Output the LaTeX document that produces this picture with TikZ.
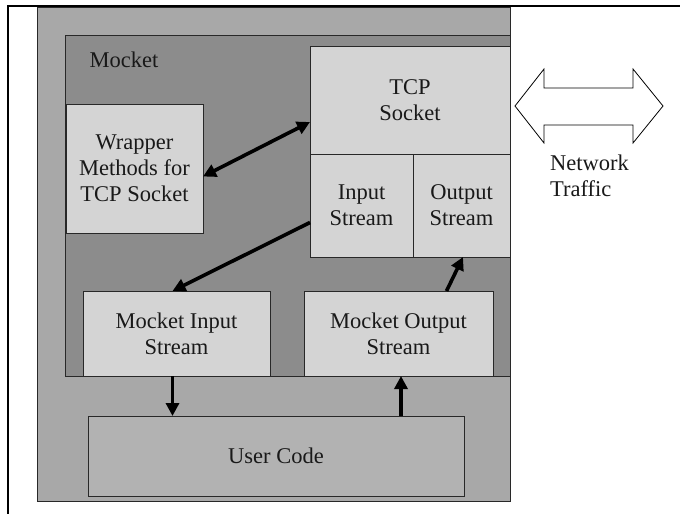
\documentclass[tikz,border=0pt]{standalone}
\usepackage{fontspec}
\setmainfont{Liberation Serif}
\usetikzlibrary{arrows.meta,calc}
\definecolor{outergray}{RGB}{168,168,168}
\definecolor{mocketgray}{RGB}{140,140,140}
\definecolor{boxgray}{RGB}{212,212,212}
\definecolor{codegray}{RGB}{178,178,178}
\definecolor{edgegray}{RGB}{40,40,40}
\tikzset{
  panel/.style={draw=edgegray, line width=0.9pt, anchor=north west, inner sep=0pt, outer sep=0pt},
  box/.style={panel, fill=boxgray, align=center, text=black!90},
  arr/.style={line width=3.6pt, -{Triangle[length=13pt,width=13pt]}},
  dblarr/.style={line width=3.6pt, {Triangle[length=13pt,width=13pt]}-{Triangle[length=13pt,width=13pt]}},
  lbl/.style={inner sep=0pt, text=black!90}
}
\begin{document}
\begin{tikzpicture}[x=1pt,y=-1pt,font=\fontsize{22.5}{26}\selectfont]
\useasboundingbox (0,0) rectangle (680,514);
\fill[white] (0,0) rectangle (680,514);
% frame
\draw[line width=1.6pt] (8,514) -- (8,6) -- (680,6);
% outer light gray
\node[panel, fill=outergray, minimum width=473, minimum height=494] (outer) at (37,7) {};
% Mocket region
\node[panel, fill=mocketgray, minimum width=445, minimum height=341] (mocket) at (65,35) {};
\node[lbl] (mlabel) at (124,60) {Mocket};
% boxes
\node[box, minimum width=137, minimum height=129] (wrap) at (66,104) {Wrapper\\Methods for\\TCP Socket};
\node[box, minimum width=200, minimum height=108] (tcp) at (310,46) {TCP\\Socket};
\node[box, minimum width=103, minimum height=103] (instream) at (310,154) {Input\\Stream};
\node[box, minimum width=97, minimum height=103] (outstream) at (413,154) {Output\\Stream};
\node[box, minimum width=187, minimum height=85] (mis) at (83,291) {Mocket Input\\Stream};
\node[box, minimum width=189, minimum height=85] (mos) at (304,291) {Mocket Output\\Stream};
\node[panel, fill=codegray, minimum width=376, minimum height=80] (uc) at (88,416) {};
\node[lbl] (uclabel) at (uc.center) {User Code};
% arrows
\draw[dblarr] ($(wrap.east)+(0,8)$) -- ($(tcp.west)+(0,22)$);
\draw[arr] ($(instream.west)+(0,17)$) -- ($(mis.north)+(-4,0)$);
\coordinate (p1) at ($(mis.south)+(-4,0)$);
\draw[arr] (p1) -- (p1 |- uc.north);
\coordinate (p2) at ($(mos.south)+(2.5,0)$);
\draw[arr] (p2 |- uc.north) -- (p2);
\draw[arr] ($(mos.north)+(48,0)$) -- ($(outstream.south)+(1.5,0)$);
% network traffic block double arrow
\draw[line width=0.8pt, fill=white] (515,106) -- (544,69) -- (544,88) -- (633,88) -- (633,69) -- (663,106) -- (633,143) -- (633,125) -- (544,125) -- (544,143) -- cycle;
\node[lbl, align=left, anchor=north west] (net) at (550,155) {Network\\Traffic};
\end{tikzpicture}
\end{document}
